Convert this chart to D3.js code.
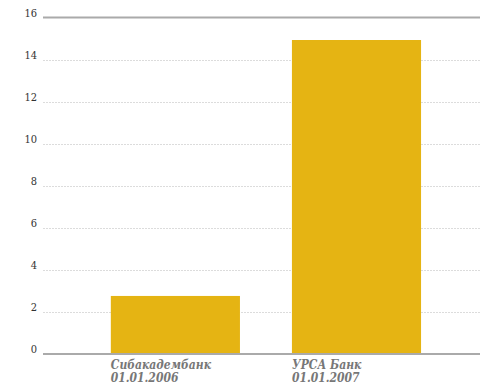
<!DOCTYPE html>
<html><head><meta charset="utf-8">
<script src="https://cdn.jsdelivr.net/npm/d3@7"></script>
<style>body{margin:0;background:#fff} text{font-family:'DejaVu Serif Condensed','DejaVu Serif',serif}</style>
</head><body>
<svg id="c" width="480" height="389"></svg>
<script>
const categories = ["Сибакадембанк|01.01.2006", "УРСА Банк|01.01.2007"];
const values = [2.76, 14.93];
const yTicks = [0, 2, 4, 6, 8, 10, 12, 14, 16];

(function () {
const svg = d3.select("#c");
const mLeft = 43, mRight = 480, mTop = 17.5, mBottom = 354;
const x = d3.scaleBand().domain(categories).range([mLeft, mRight])
  .paddingInner(0.287).paddingOuter(0.35).align(0.535);
const y = d3.scaleLinear().domain([0, 16]).range([mBottom, mTop]);

// gridlines
svg.append("g").selectAll("line").data(yTicks.filter(t => t !== 0 && t !== 16)).join("line")
  .attr("x1", mLeft).attr("x2", mRight)
  .attr("y1", d => Math.round(y(d)) + 0.5).attr("y2", d => Math.round(y(d)) + 0.5)
  .attr("stroke", "#dcdcdc").attr("stroke-width", 1).attr("stroke-dasharray", "2,1");

// top line
svg.append("line").attr("x1", mLeft).attr("x2", mRight)
  .attr("y1", y(16)).attr("y2", y(16)).attr("stroke", "#aaa").attr("stroke-width", 2);

// bars
svg.append("g").selectAll("rect").data(values).join("rect")
  .attr("x", (d, i) => x(categories[i])).attr("width", x.bandwidth())
  .attr("y", d => y(d)).attr("height", d => y(0) - y(d))
  .attr("fill", "#e5b413");

// zero line
svg.append("line").attr("x1", mLeft).attr("x2", mRight)
  .attr("y1", y(0)).attr("y2", y(0)).attr("stroke", "#aaa").attr("stroke-width", 2);

// y axis labels
svg.append("g").selectAll("text").data(yTicks).join("text")
  .attr("x", 37).attr("y", d => y(d) - 1)
  .attr("text-anchor", "end")
  .attr("font-size", 11)
  .attr("fill", "#333").text(d => d);

// x labels
const xl = svg.append("g").selectAll("text").data(categories).join("text")
  .attr("x", d => x(d)).attr("y", 369)
  .attr("font-size", 12)
  .attr("font-style", "italic").attr("font-weight", "bold")
  .attr("fill", "#777");
xl.append("tspan").attr("x", d => x(d)).text(d => d.split("|")[0]);
xl.append("tspan").attr("x", d => x(d)).attr("dy", 13).text(d => d.split("|")[1]);
})();
</script>
</body></html>
